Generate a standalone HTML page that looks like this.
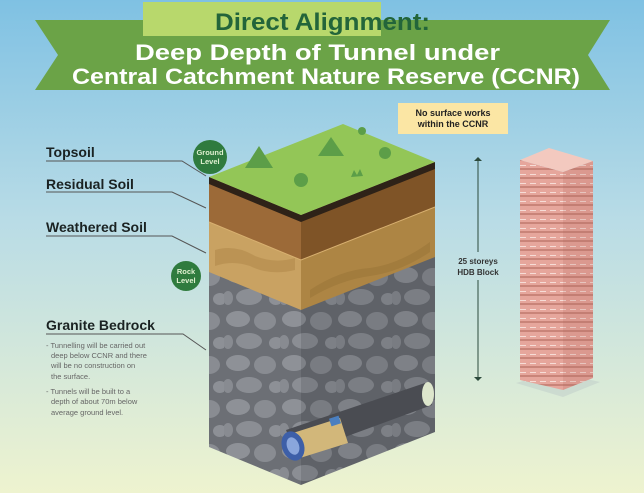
<!DOCTYPE html>
<html><head><meta charset="utf-8"><style>
html,body{margin:0;padding:0;width:644px;height:493px;overflow:hidden}
svg{display:block}
text{font-family:"Liberation Sans",sans-serif}
</style></head><body>
<svg width="644" height="493" viewBox="0 0 644 493" xmlns="http://www.w3.org/2000/svg">
<defs>
<linearGradient id="bg" x1="0" y1="0" x2="0" y2="1">
<stop offset="0" stop-color="#7fc1e3"/><stop offset="0.45" stop-color="#b9dce6"/><stop offset="1" stop-color="#eef3cf"/>
</linearGradient>
<pattern id="stones" width="56" height="44" patternUnits="userSpaceOnUse">
<rect width="56" height="44" fill="#6c6f75"/>
<ellipse cx="14" cy="11" rx="12" ry="8" fill="#8e9197"/>
<ellipse cx="41" cy="13" rx="11" ry="9" fill="#898c92"/>
<ellipse cx="25" cy="33" rx="13" ry="8" fill="#8b8e94"/>
<ellipse cx="52" cy="35" rx="7" ry="6" fill="#8d9096"/>
<ellipse cx="4" cy="34" rx="5" ry="7" fill="#888b91"/>
</pattern>
<pattern id="stones2" width="56" height="44" patternUnits="userSpaceOnUse">
<rect width="56" height="44" fill="#5f6268"/>
<ellipse cx="14" cy="11" rx="12" ry="8" fill="#7e8187"/>
<ellipse cx="41" cy="13" rx="11" ry="9" fill="#797c82"/>
<ellipse cx="25" cy="33" rx="13" ry="8" fill="#7b7e84"/>
<ellipse cx="52" cy="35" rx="7" ry="6" fill="#7d8086"/>
<ellipse cx="4" cy="34" rx="5" ry="7" fill="#797c82"/>
</pattern>
<pattern id="floors" width="10" height="9" patternUnits="userSpaceOnUse">
<rect width="10" height="9" fill="#e6a69c"/>
<rect y="6" width="10" height="2" fill="#c98479"/>
<rect y="3" width="6" height="1" fill="#f6dcd6"/>
</pattern>
</defs>
<rect width="644" height="493" fill="url(#bg)"/>
<!-- banner -->
<polygon points="35,20 610,20 588,55 610,90 35,90 58,55" fill="#6ba347"/>
<rect x="143" y="2" width="238" height="34" fill="#b8d86c"/>
<text x="215" y="30" font-size="24" font-weight="bold" fill="#23653a" textLength="215" lengthAdjust="spacingAndGlyphs">Direct Alignment:</text>
<text x="135" y="60" font-size="22" font-weight="bold" fill="#fff" textLength="365" lengthAdjust="spacingAndGlyphs">Deep Depth of Tunnel under</text>
<text x="72" y="84" font-size="22" font-weight="bold" fill="#fff" textLength="508" lengthAdjust="spacingAndGlyphs">Central Catchment Nature Reserve (CCNR)</text>
<!-- note -->
<rect x="398" y="103" width="110" height="31" fill="#fbe6a4"/>
<text x="453" y="116" font-size="9" font-weight="bold" fill="#222" text-anchor="middle">No surface works</text>
<text x="453" y="127" font-size="9" font-weight="bold" fill="#222" text-anchor="middle">within the CCNR</text>
<!-- block left face -->
<polygon points="209,177 301,215 301,485 209,447" fill="url(#stones)"/>
<polygon points="209,177 301,215 301,310 209,272" fill="#c9a262"/>
<path d="M215,250 q20,-6 40,6 q20,8 40,2 l0,12 q-25,6 -45,-4 q-18,-6 -35,0 z" fill="#b58d4e" opacity="0.7"/>
<polygon points="209,177 301,215 301,260 209,222" fill="#9c6a38"/>
<polygon points="209,177 301,215 301,222 209,184" fill="#2e2218"/>
<!-- right face -->
<polygon points="301,215 435,162 435,432 301,485" fill="url(#stones2)"/>
<polygon points="301,215 435,162 435,257 301,310" fill="#ad8544"/>
<path d="M310,290 q30,-20 60,-22 q30,-4 60,-26 l0,10 q-30,20 -60,24 q-30,4 -60,22 z" fill="#9c773a" opacity="0.7"/>
<polygon points="301,215 435,162 435,207 301,260" fill="#7f5427"/>
<polygon points="301,215 435,162 435,169 301,222" fill="#2e2218"/>
<path d="M209,222 L301,260 L435,207" stroke="#d8b070" stroke-width="1" fill="none"/>
<!-- top -->
<polygon points="209,177 343,124 435,162 301,215" fill="#93c657"/>
<polygon points="245,168 259,146 273,168" fill="#5c9e48"/>
<polygon points="318,156 331,137 344,156" fill="#5c9e48"/>
<circle cx="301" cy="180" r="7" fill="#5c9e48"/>
<circle cx="385" cy="153" r="6" fill="#5c9e48"/>
<path d="M351,177 l3,-7 l3,5 l3,-6 l3,7 z" fill="#5c9e48"/>
<circle cx="362" cy="131" r="4" fill="#5c9e48"/>
<!-- tunnel -->
<polygon points="286,430 425,383 432,405 296,455" fill="#4a4c52"/>
<ellipse cx="428" cy="394" rx="6" ry="12" fill="#dde6cc"/>
<polygon points="293,433 340,418 348,443 300,458" fill="#d2b77a"/>
<rect x="330" y="417" width="10" height="8" fill="#4a7fc0" transform="rotate(-18 335 421)"/>
<ellipse cx="293" cy="446" rx="11" ry="15" fill="#3d5fa8" transform="rotate(-20 293 446)"/>
<ellipse cx="293" cy="446" rx="6" ry="9" fill="#8aa6dc" transform="rotate(-20 293 446)"/>
<!-- labels -->
<g fill="#1a2222" font-weight="bold" font-size="14">
<text x="46" y="157">Topsoil</text>
<text x="46" y="189">Residual Soil</text>
<text x="46" y="232">Weathered Soil</text>
<text x="46" y="330">Granite Bedrock</text>
</g>
<g stroke="#555" stroke-width="1" fill="none">
<polyline points="46,161 182,161 206,176"/>
<polyline points="46,192 172,192 206,208"/>
<polyline points="46,236 172,236 206,253"/>
<polyline points="46,334 183,334 206,350"/>
</g>
<g fill="#666" font-size="7.5">
<text x="46" y="348">- Tunnelling will be carried out</text>
<text x="51" y="358">deep below CCNR and there</text>
<text x="51" y="368">will be no construction on</text>
<text x="51" y="379">the surface.</text>
<text x="46" y="394">- Tunnels will be built to a</text>
<text x="51" y="404">depth of about 70m below</text>
<text x="51" y="415">average ground level.</text>
</g>
<circle cx="210" cy="157" r="17" fill="#2f7b3e"/>
<text x="210" y="155" font-size="7.5" font-weight="bold" fill="#dff0d0" text-anchor="middle">Ground</text>
<text x="210" y="164" font-size="7.5" font-weight="bold" fill="#dff0d0" text-anchor="middle">Level</text>
<circle cx="186" cy="276" r="15" fill="#2f7b3e"/>
<text x="186" y="274" font-size="7.5" font-weight="bold" fill="#dff0d0" text-anchor="middle">Rock</text>
<text x="186" y="283" font-size="7.5" font-weight="bold" fill="#dff0d0" text-anchor="middle">Level</text>
<!-- height arrow -->
<line x1="478" y1="160" x2="478" y2="252" stroke="#2c4a3c" stroke-width="1"/>
<line x1="478" y1="280" x2="478" y2="378" stroke="#2c4a3c" stroke-width="1"/>
<polygon points="474,161 482,161 478,157" fill="#2c4a3c"/>
<polygon points="474,377 482,377 478,381" fill="#2c4a3c"/>
<text x="478" y="264" font-size="8" font-weight="bold" fill="#333" text-anchor="middle">25 storeys</text>
<text x="478" y="275" font-size="8" font-weight="bold" fill="#333" text-anchor="middle">HDB Block</text>
<!-- building -->
<polygon points="516,383 563,397 600,382 555,372" fill="#c3d0cc" opacity="0.6"/>
<polygon points="520,160 563,172 563,390 520,380" fill="url(#floors)"/>
<polygon points="563,172 593,161 593,378 563,390" fill="url(#floors)"/>
<polygon points="563,172 593,161 593,378 563,390" fill="#b06a60" opacity="0.2"/>
<polygon points="520,160 549,148 593,161 563,172" fill="#f3c9bf"/>
</svg>
</body></html>
